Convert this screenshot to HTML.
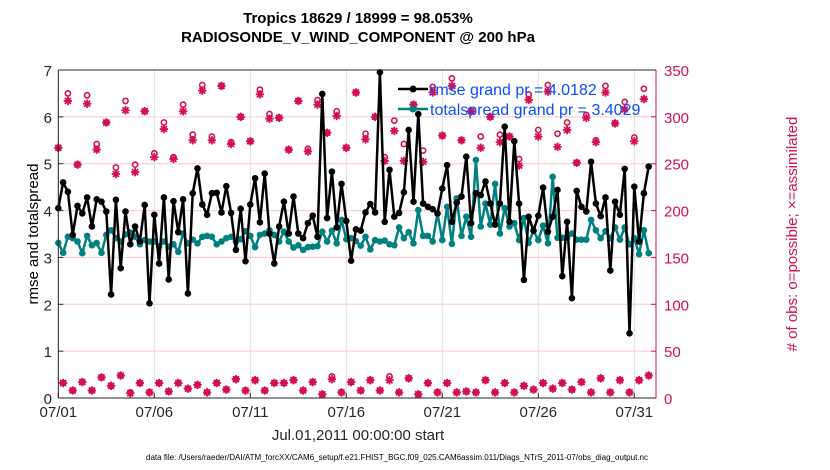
<!DOCTYPE html>
<html><head><meta charset="utf-8"><style>
html,body{margin:0;padding:0;background:#fff;}
svg{display:block;font-family:"Liberation Sans",sans-serif;}
</style></head><body>
<svg id="chart" width="830" height="470" viewBox="0 0 830 470" xmlns="http://www.w3.org/2000/svg">
<text x="358" y="23" text-anchor="middle" font-size="15" font-weight="bold">Tropics 18629 / 18999 = 98.053%</text>
<text x="358" y="42" text-anchor="middle" font-size="15" font-weight="bold">RADIOSONDE_V_WIND_COMPONENT @ 200 hPa</text>
<g id="grid"></g>
<g id="marks"></g>
<g id="axes"></g>
<text transform="translate(38,234) rotate(-90)" text-anchor="middle" font-size="15">rmse and totalspread</text>
<text transform="translate(797,234) rotate(-90)" text-anchor="middle" font-size="15" fill="#d40f52">#  of obs: o=possible; &#215;=assimilated</text>
<text x="358" y="440" text-anchor="middle" font-size="15" fill="#262626">Jul.01,2011 00:00:00 start</text>
<text x="146" y="460" font-size="8" textLength="502" lengthAdjust="spacingAndGlyphs">data file: /Users/raeder/DAI/ATM_forcXX/CAM6_setup/f.e21.FHIST_BGC.f09_025.CAM6assim.011/Diags_NTrS_2011-07/obs_diag_output.nc</text>
<g>
 <line x1="398" y1="89" x2="428" y2="89" stroke="#000" stroke-width="2.5"/>
 <circle cx="413" cy="89" r="3.5" fill="#000"/>
 <text x="430" y="95" font-size="16" fill="#0a4cff">rmse grand pr = 4.0182</text>
 <line x1="398" y1="109" x2="428" y2="109" stroke="#008080" stroke-width="2.5"/>
 <circle cx="413" cy="109" r="3.5" fill="#008080"/>
 <text x="430" y="115" font-size="16" fill="#0a4cff">totalspread grand pr = 3.4029</text>
</g>
</svg>
<script>
const dayTicks = [0,5,10,15,20,25,30];
const dayLabels = ["07/01","07/06","07/11","07/16","07/21","07/26","07/31"];
const leftTicks = [0,1,2,3,4,5,6,7];
const rightTicks = [0,50,100,150,200,250,300,350];
const rmse = [4.05,4.60,4.40,3.48,4.10,3.94,4.28,3.66,4.24,4.19,3.98,2.21,4.23,2.77,3.98,3.28,3.66,3.34,4.12,2.02,3.91,2.87,4.28,2.53,4.20,3.54,4.24,2.23,4.37,4.90,4.13,3.91,4.37,4.38,3.96,4.52,3.95,3.16,4.04,2.92,4.13,4.69,3.75,4.79,
3.51,2.87,3.66,4.19,3.51,4.30,3.51,3.41,3.73,3.89,3.44,6.49,3.84,4.83,3.64,4.57,3.78,2.93,3.60,3.57,3.96,4.14,3.96,6.95,3.76,4.87,3.87,3.95,4.39,5.72,4.19,6.06,4.15,4.08,4.03,3.94,4.47,4.97,3.76,4.17,
4.30,5.15,3.73,4.37,4.33,4.62,4.15,3.70,4.15,5.79,3.76,5.48,4.15,2.52,3.87,3.57,3.89,4.49,3.55,3.87,4.44,2.60,3.76,2.13,4.42,4.08,3.98,5.04,4.15,3.88,4.28,2.72,4.19,3.91,4.89,1.38,4.51,3.34,4.37,4.94];
const spread = [3.31,3.10,3.44,3.41,3.34,3.09,3.46,3.26,3.31,3.10,3.48,3.58,3.41,3.34,3.49,3.53,3.44,3.28,3.37,3.34,3.34,3.23,3.34,3.23,3.28,3.12,3.51,3.30,3.38,3.30,3.44,3.46,3.44,3.28,3.34,3.41,3.44,3.34,3.39,3.56,3.46,3.22,3.48,3.51,
3.58,3.48,3.34,3.55,3.34,3.21,3.26,3.16,3.22,3.23,3.24,3.55,3.34,3.57,3.30,3.80,3.39,3.41,3.35,3.25,3.44,3.17,3.37,3.34,3.36,3.28,3.26,3.64,3.41,3.54,3.30,4.01,3.46,3.46,3.34,3.94,3.37,4.08,3.29,4.26,
3.46,3.87,3.44,5.08,3.66,4.15,3.70,4.57,3.51,4.05,3.66,3.73,3.37,3.84,3.31,3.57,3.37,3.68,3.30,4.72,3.42,3.42,3.42,3.51,3.38,3.38,3.38,3.80,3.58,3.41,3.56,3.41,3.64,3.38,3.64,3.28,3.41,3.07,3.58,3.09];
const assimilated = [267,16,317,8,249,17,314,8,265,22,294,13,239,24,307,5,241,16,306,6,257,16,287,7,255,16,306,10,275,14,328,6,275,16,333,9,271,20,300,8,274,19,324,8,
298,16,299,16,265,19,317,8,263,17,313,4,283,20,301,6,267,17,326,8,276,19,300,8,253,19,285,6,253,21,313,4,252,16,326,6,280,16,333,6,
275,7,306,6,267,19,300,6,273,16,279,6,248,13,318,9,279,16,327,10,268,16,286,9,251,17,299,6,273,21,326,6,293,19,308,6,274,19,319,24];
const possible = [267,16,325,8,249,17,323,8,271,22,294,13,246,24,317,6,249,16,306,6,261,16,294,7,257,16,313,10,281,14,334,6,279,16,333,9,273,20,300,8,274,19,329,8,
303,16,299,16,265,19,317,8,266,17,318,4,283,23,306,6,267,17,326,8,282,19,300,8,257,23,296,6,271,21,313,4,264,16,332,6,280,16,341,6,
275,7,306,6,279,19,300,6,281,16,279,6,255,13,324,9,286,16,334,10,282,16,294,9,251,17,302,6,275,21,333,6,293,19,316,6,278,19,330,24];

const NS = "http://www.w3.org/2000/svg";
const L = 58.3, R = 656, T = 70, B = 398;
const DMAX = (R - L) / 19.2;
const xDay = d => L + d / DMAX * (R - L);
const xIdx = i => xDay(i * 0.25);
const yL = v => B - v / 7 * (B - T);
const yR = v => B - v / 350 * (B - T);
const red = "#d40f52", teal = "#008080";
function mk(tag, attrs, parent) {
  const e = document.createElementNS(NS, tag);
  for (const k in attrs) e.setAttribute(k, attrs[k]);
  parent.appendChild(e);
  return e;
}
const grid = document.getElementById("grid");
const marks = document.getElementById("marks");
const axes = document.getElementById("axes");

dayTicks.forEach((d, i) => {
  const g = mk("line", {x1: xDay(d), x2: xDay(d), y1: T, y2: B, stroke: "#dcdcdc", "stroke-width": 1}, grid);
  
  
  const t = mk("text", {x: xDay(d), y: 417, "text-anchor": "middle", "font-size": 15, fill: "#262626"}, axes);
  t.textContent = dayLabels[i];
  
  
  mk("line", {x1: xDay(d), x2: xDay(d), y1: B, y2: B - 5, stroke: "#262626"}, axes);
});
rightTicks.forEach(v => {
  const g = mk("line", {x1: L, x2: R, y1: yR(v), y2: yR(v), stroke: "#f5c6d6", "stroke-width": 1}, grid);
  
  
  const t = mk("text", {x: R + 8, y: yR(v) + 6, "font-size": 15, fill: red}, axes);
  t.textContent = v;
  
  
  mk("line", {x1: R, x2: R - 5, y1: yR(v), y2: yR(v), stroke: red}, axes);
});
leftTicks.forEach(v => {
  const t = mk("text", {x: 52, y: yL(v) + 6, "text-anchor": "end", "font-size": 15, fill: "#262626"}, axes);
  t.textContent = v;
  
  
  mk("line", {x1: L, x2: L + 5, y1: yL(v), y2: yL(v), stroke: "#262626"}, axes);
});
mk("line", {x1: L, x2: L, y1: T, y2: B, stroke: "#262626", "stroke-width": 1}, axes);
mk("line", {x1: L, x2: R, y1: B, y2: B, stroke: "#262626", "stroke-width": 1}, axes);
mk("line", {x1: L, x2: R, y1: T, y2: T, stroke: "#262626", "stroke-width": 1}, axes);
mk("line", {x1: R, x2: R, y1: T, y2: B, stroke: red, "stroke-width": 1}, axes);

// obs counts
possible.forEach((v, i) => {
  const c = mk("circle", {cx: xIdx(i), cy: yR(v), r: 2.6, fill: "none", stroke: red, "stroke-width": 1.6}, marks);
  
  
});
assimilated.forEach((v, i) => {
  const x = xIdx(i), y = yR(v), s = 4.2, d = 3;
  const g = mk("g", {stroke: red, "stroke-width": 1.8}, marks);
  
  
  mk("line", {x1: x - s, x2: x + s, y1: y, y2: y}, g);
  mk("line", {x1: x, x2: x, y1: y - s, y2: y + s}, g);
  mk("line", {x1: x - d, x2: x + d, y1: y - d, y2: y + d}, g);
  mk("line", {x1: x - d, x2: x + d, y1: y + d, y2: y - d}, g);
});
function series(arr, color, name) {
  const pl = mk("polyline", {points: arr.map((v, i) => xIdx(i) + "," + yL(v)).join(" "), fill: "none", stroke: color, "stroke-width": 2.5, "stroke-linejoin": "round"}, marks);
  
  
  arr.forEach((v, i) => {
    const c = mk("circle", {cx: xIdx(i), cy: yL(v), r: 3.3, fill: color}, marks);
    
    
  });
}
series(spread, teal, "totalspread");
series(rmse, "#000", "rmse");
</script>
</body></html>
